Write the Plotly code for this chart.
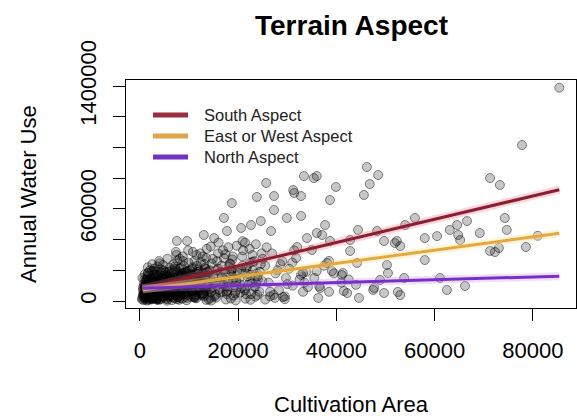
import plotly.graph_objects as go

# ---------------- data (x in thousands of area units, y in thousands) ----------------
out_x = [85.4, 77.8, 71.3, 73.3, 46.2, 48.5, 46.8, 45.6, 39.9, 38.7, 36.0, 37.7, 44.4, 56.0, 54.0,
         64.6, 66.6, 69.2, 74.3, 74.7, 71.3, 73.1, 58.0, 60.5, 63.1, 65.2, 48.3, 49.7, 52.3, 53.0,
         38.7, 37.1, 42.8, 44.2, 50.3, 58.0, 38.5, 39.1, 41.1, 36.0, 53.8, 61.1, 36.7, 41.5, 44.6,
         47.7, 49.7, 53.0, 62.5, 66.2, 33.4, 35.4, 25.7, 23.8, 27.3, 31.4, 32.8, 18.7, 27.3, 17.1,
         29.9, 32.8, 24.6, 22.6, 26.7, 7.5, 9.6, 34.0, 13.0, 15.1, 17.7, 20.6, 31.2, 36.0, 42.8,
         38.1, 41.3, 29.1, 36.3, 42.2, 47.5, 48.9, 33.2, 35.0, 32.0, 81.0, 78.6, 51.9, 64.8, 72.3,
         50.5, 52.5]
out_y = [1390, 1016, 801, 756, 873, 821, 762, 691, 743, 658, 814, 495, 463, 541, 495,
         495, 521, 443, 541, 463, 326, 345, 410, 423, 463, 397, 456, 391, 391, 358,
         391, 430, 326, 248, 235, 267, 261, 195, 169, 195, 150, 150, 85, 65, 20,
         85, 52, 39, 72, 98, 814, 801, 769, 678, 684, 704, 684, 638, 593, 541,
         541, 554, 521, 495, 456, 391, 391, 410, 430, 410, 456, 476, 723, 443, 397,
         248, 182, 26, 20, 52, 72, 137, 182, 332, 352, 425, 352, 378, 430, 319,
         182, 59]

dense_x = [0.4, 0.6, 0.8, 0.9, 1.0, 1.1, 1.2, 1.3, 1.4, 1.5, 1.6, 1.7, 1.8, 1.9, 2.0, 2.1, 2.2, 2.3, 2.4, 2.5,
           2.6, 2.7, 2.8, 2.9, 3.0, 0.5, 0.7, 1.0, 1.2, 1.5, 1.7, 2.0, 2.2, 2.5, 2.7, 2.9, 0.6, 0.9, 1.3, 1.6,
           1.9, 2.3, 2.6, 2.8, 1.1, 1.4, 1.8, 2.1, 2.4, 2.9,
           3.1, 3.2, 3.3, 3.4, 3.5, 3.6, 3.7, 3.8, 3.9, 4.0, 4.1, 4.2, 4.3, 4.4, 4.5, 4.6, 4.7, 4.8, 4.9, 5.0,
           5.1, 5.2, 5.3, 5.4, 5.5, 5.6, 5.7, 5.8, 5.9, 6.0, 3.3, 3.6, 3.9, 4.2, 4.5, 4.8, 5.1, 5.4, 5.7, 6.0,
           3.5, 4.0, 4.6, 5.2, 5.8,
           6.2, 6.4, 6.6, 6.8, 7.0, 7.2, 7.4, 7.6, 7.8, 8.0, 8.2, 8.4, 8.6, 8.8, 9.0, 9.2, 9.4, 9.6, 9.8, 10.0,
           6.3, 6.7, 7.1, 7.5, 7.9, 8.3, 8.7, 9.1, 9.5, 9.9, 6.5, 7.0, 7.7, 8.1, 8.5, 9.0, 9.7, 6.9, 7.3, 8.0,
           8.9, 9.3, 7.6, 8.4, 9.6,
           10.3, 10.6, 10.9, 11.2, 11.5, 11.8, 12.1, 12.4, 12.7, 13.0, 13.3, 13.6, 13.9, 14.2, 14.5, 14.8,
           10.5, 11.0, 11.6, 12.2, 12.8, 13.4, 14.0, 14.6, 10.8, 11.4, 12.0, 12.6, 13.2, 13.8, 14.4, 15.0,
           11.1, 11.9, 12.9, 13.7, 14.7, 10.4, 12.3, 13.1, 14.3, 11.7, 12.5, 13.5, 14.9,
           15.3, 15.7, 16.1, 16.5, 16.9, 17.3, 17.7, 18.1, 18.5, 18.9, 19.3, 19.7, 15.5, 16.3, 17.1, 17.9,
           18.7, 19.5, 15.9, 16.7, 17.5, 18.3, 19.1, 19.9, 16.0, 17.0, 18.0, 19.0, 15.2, 16.6, 17.8, 18.8,
           19.6, 17.4, 18.6,
           20.3, 20.8, 21.3, 21.8, 22.3, 22.8, 23.3, 23.8, 24.3, 24.8, 20.6, 21.6, 22.6, 23.6, 24.6,
           21.0, 22.0, 23.0, 24.0, 25.0, 20.4, 21.4, 22.4, 23.4, 24.4, 21.9, 22.9, 23.9, 20.9, 24.9,
           25.5, 26.2, 26.9, 27.6, 28.3, 29.0, 29.7, 30.4, 31.1, 31.8, 32.5, 33.2, 33.9,
           25.8, 27.2, 28.6, 30.0, 31.4, 32.8, 34.2, 26.5, 28.0, 29.5, 31.0, 33.5,
           35.5, 36.5, 37.5, 38.5, 39.5, 41.0, 42.5, 44.0]
dense_y = [12, 35, 60, 18, 90, 42, 130, 25, 75, 160, 50, 8, 110, 70, 200, 30, 145, 85, 55, 240,
           100, 20, 170, 65, 125, 150, 5, 48, 95, 28, 185, 62, 120, 15, 78, 210, 88, 140, 38, 220,
           105, 10, 58, 175, 22, 68, 135, 45, 195, 98,
           40, 115, 18, 190, 72, 150, 33, 95, 260, 55, 128, 12, 205, 80, 165, 45, 235, 100, 28, 140,
           70, 185, 15, 118, 58, 275, 90, 160, 38, 215, 65, 225, 142, 30, 110, 200, 52, 170, 82, 125,
           10, 245, 60, 95, 190,
           55, 180, 25, 240, 110, 75, 300, 145, 38, 210, 90, 165, 15, 260, 120, 48, 195, 80, 330, 140,
           130, 62, 225, 95, 170, 35, 290, 105, 60, 250, 200, 18, 155, 275, 70, 185, 115, 85, 320, 50,
           230, 28, 265, 135, 175,
           90, 210, 45, 155, 300, 120, 70, 250, 180, 30, 140, 340, 95, 200, 60, 275,
           170, 25, 230, 110, 290, 65, 185, 135, 320, 80, 160, 40, 215, 105, 355, 150,
           260, 125, 50, 190, 88, 130, 310, 240, 20, 175, 100, 280, 115,
           120, 260, 75, 190, 330, 140, 45, 225, 170, 290, 100, 360, 200, 55, 280, 130,
           210, 65, 310, 160, 95, 245, 35, 185, 380, 110, 350, 150, 30, 230, 70, 270,
           125, 305, 195,
           150, 290, 80, 220, 340, 120, 260, 180, 60, 310, 210, 45, 170, 370, 240,
           330, 105, 200, 140, 275, 55, 380, 250, 95, 190, 160, 300, 40, 390, 130,
           230, 120, 310, 180, 70, 260, 150, 210, 100, 280, 140, 60, 190,
           350, 40, 240, 110, 330, 170, 90, 60, 200, 30, 250, 120,
           150, 95, 230, 60, 180, 120, 140, 105]

core_x = [0.5, 0.7, 0.9, 1.1, 1.3, 1.5, 1.7, 1.9, 2.1, 2.3, 2.5, 2.7, 2.9, 3.1, 3.3, 3.5, 3.7, 3.9,
          4.1, 4.3, 4.5, 4.7, 4.9, 5.1, 5.3, 5.5, 5.7, 5.9,
          0.6, 0.8, 1.0, 1.2, 1.4, 1.6, 1.8, 2.0, 2.2, 2.4, 2.6, 2.8, 3.0, 3.2, 3.4, 3.6, 3.8, 4.0,
          4.2, 4.4, 4.6, 4.8, 5.0, 5.2, 5.4, 5.6, 5.8, 6.0,
          6.2, 6.6, 7.0, 7.4, 7.8, 8.2, 8.6, 9.0, 9.4, 9.8, 10.2, 10.6, 11.0, 11.4, 11.8, 12.2, 12.6,
          13.0, 13.4, 13.8,
          6.4, 6.8, 7.2, 7.6, 8.0, 8.4, 8.8, 9.2, 9.6, 10.0, 10.4, 10.8, 11.2, 11.6, 12.0, 12.4, 12.8,
          13.2, 13.6, 14.0, 7.1, 8.3, 9.5, 10.7, 11.9, 13.1,
          14.4, 14.9, 15.4, 15.9, 16.4, 16.9, 17.4, 17.9, 18.4, 18.9, 19.4, 19.9, 20.4, 20.9, 21.4,
          21.9, 22.4, 22.9, 23.4, 23.9, 14.6, 15.6, 16.6, 17.6, 18.6, 19.6, 20.6, 21.6, 22.6, 23.6,
          1.5, 3.5, 5.5, 7.5, 9.5, 11.5, 13.5, 15.5, 17.5, 19.5, 21.5, 23.5, 25.5, 27.5, 29.5,
          2.5, 6.5, 10.5, 14.5, 18.5, 22.5, 26.5]
core_y = [20, 45, 80, 10, 55, 95, 30, 120, 65, 15, 88, 40, 150, 25, 70, 105, 50, 8,
          135, 60, 22, 90, 115, 35, 75, 160, 48, 100,
          70, 28, 105, 52, 140, 15, 85, 38, 115, 62, 25, 95, 45, 170, 78, 20, 130, 58,
          90, 30, 110, 68, 145, 40, 82, 12, 125, 55,
          30, 95, 150, 60, 120, 20, 175, 85, 45, 130, 200, 65, 110, 35, 160, 90, 140,
          50, 210, 75,
          140, 55, 100, 185, 35, 125, 70, 165, 20, 105, 60, 150, 25, 190, 80, 120, 45,
          170, 95, 130, 210, 215, 190, 220, 205, 180,
          80, 160, 40, 210, 115, 60, 185, 95, 240, 140, 50, 200, 110, 230, 70,
          175, 125, 255, 90, 160, 245, 100, 150, 60, 195, 135, 85, 215, 45, 120,
          3, 8, 2, 12, 5, 18, 7, 22, 10, 4, 15, 28, 9, 20, 12,
          14, 6, 25, 3, 16, 8, 30]

inner_x = [0.8, 1.2, 1.6, 2.0, 2.4, 2.8, 3.2, 3.6, 4.0, 4.4, 4.8, 5.2, 5.6, 6.0, 6.4, 6.8, 7.2, 7.6,
           8.0, 8.4, 8.8, 9.2, 9.6, 10.0, 10.4, 10.8, 11.2, 11.6, 12.0, 12.4,
           1.0, 1.8, 2.6, 3.4, 4.2, 5.0, 5.8, 6.6, 7.4, 8.2, 9.0, 9.8, 10.6, 11.4, 12.2, 13.0,
           0.7, 1.4, 2.1, 2.8, 3.5, 4.2, 4.9, 5.6, 6.3, 7.0, 7.7, 8.4, 9.1, 9.8, 10.5, 11.2, 11.9,
           12.6, 13.3, 14.0,
           0.9, 1.3, 1.7, 2.1, 2.5, 2.9, 3.3, 3.7, 4.1, 4.5, 4.9, 5.3, 5.7, 6.1, 6.5, 6.9, 7.3, 7.7,
           1.1, 1.9, 2.7, 3.5, 4.3, 5.1, 5.9, 6.7, 7.5, 8.3]
inner_y = [110, 65, 180, 35, 140, 90, 15, 165, 55, 120, 75, 190, 28, 150, 100, 45, 200, 130,
           8, 170, 85, 145, 40, 115, 175, 60, 20, 135, 95, 50,
           175, 20, 130, 60, 185, 95, 30, 155, 80, 120, 50, 195, 110, 70, 160, 40,
           40, 125, 75, 195, 15, 100, 165, 50, 140, 85, 25, 180, 105, 60, 150, 35, 190,
           125, 80, 10,
           95, 140, 55, 110, 30, 125, 85, 45, 100, 150, 60, 120, 80, 40, 135, 70, 115, 25,
           60, 95, 45, 130, 75, 105, 140, 90, 55, 160]

# fitted trend lines (endpoints, thousands)
fit_x = [0.55, 85.4]
south_y = [82, 725]
eastwest_y = [74, 441]
north_y = [83, 162]

series_names = ["South Aspect", "East or West Aspect", "North Aspect"]
series_y = [south_y, eastwest_y, north_y]
series_colors = ["#8B1E30", "#E6A83C", "#7A2EC6"]
legend_colors = ["#9A2E3E", "#E2A448", "#7033C0"]
halo_colors = ["rgba(230,120,140,0.30)", "rgba(255,225,150,0.35)", "rgba(200,150,255,0.30)"]

x_ticks = [0, 20000, 40000, 60000, 80000]
y_ticks = [0, 200000, 400000, 600000, 800000, 1000000, 1200000, 1400000]
y_tick_text = ["0", "", "", "600000", "", "", "", "1400000"]

# ---------------- figure ----------------
K = 1000
pts_x = [v * K for v in dense_x + core_x + inner_x + out_x]
pts_y = [v * K for v in dense_y + core_y + inner_y + out_y]

fig = go.Figure()
fig.add_trace(go.Scatter(
    x=pts_x, y=pts_y, mode="markers", showlegend=False, hoverinfo="skip",
    marker=dict(size=9, color="rgba(0,0,0,0.22)",
                line=dict(color="rgba(0,0,0,0.45)", width=1))))

for name, ys, col, halo in zip(series_names, series_y, series_colors, halo_colors):
    xs = [v * K for v in fit_x]
    yv = [v * K for v in ys]
    fig.add_trace(go.Scatter(x=xs, y=yv, mode="lines", showlegend=False, hoverinfo="skip",
                             line=dict(color=halo, width=8)))
    fig.add_trace(go.Scatter(x=xs, y=yv, mode="lines", showlegend=False, name=name,
                             line=dict(color=col, width=3)))

font_family = "Liberation Sans, Arial, sans-serif"

# manual legend (paper coordinates of the plot area)
legend_rows = [0.8465, 0.7544, 0.6623]
shapes = []
annotations = []
for name, col, yy in zip(series_names, legend_colors, legend_rows):
    shapes.append(dict(type="line", xref="paper", yref="paper", x0=0.06, x1=0.1378,
                       y0=yy, y1=yy, line=dict(color=col, width=5)))
    annotations.append(dict(text=name, x=0.1689, y=yy, xref="paper", yref="paper",
                            xanchor="left", yanchor="middle", showarrow=False,
                            font=dict(size=16.5, family=font_family, color="#222")))

annotations += [
    dict(text="<b>Terrain Aspect</b>", x=0.5, y=1.241, xref="paper", yref="paper",
         xanchor="center", yanchor="middle", showarrow=False,
         font=dict(size=28, family=font_family, color="black")),
    dict(text="Cultivation Area", x=0.5, y=-0.4254, xref="paper", yref="paper",
         xanchor="center", yanchor="middle", showarrow=False,
         font=dict(size=22, family=font_family, color="black")),
    dict(text="Annual Water Use", x=-0.2178, y=0.5, xref="paper", yref="paper",
         xanchor="center", yanchor="middle", showarrow=False, textangle=-90,
         font=dict(size=22, family=font_family, color="black")),
]

fig.update_layout(
    width=577, height=418,
    margin=dict(l=126, r=1, t=80, b=110),
    paper_bgcolor="white", plot_bgcolor="white",
    font=dict(family=font_family, color="black"),
    showlegend=False,
    xaxis=dict(range=[-2850, 88800], tickvals=x_ticks, ticktext=[str(v) for v in x_ticks],
               showgrid=False, zeroline=False, showline=True, mirror=True,
               linecolor="black", linewidth=1.3, ticks="outside", ticklen=12,
               tickcolor="black", tickwidth=1.3, tickfont=dict(size=22, color="black"),
               ticklabelstandoff=10),
    yaxis=dict(range=[-45600, 1440000], tickvals=y_ticks, ticktext=y_tick_text,
               tickangle=-90,
               showgrid=False, zeroline=False, showline=True, mirror=True,
               linecolor="black", linewidth=1.3, ticks="outside", ticklen=12,
               tickcolor="black", tickwidth=1.3, tickfont=dict(size=22, color="black"),
               ticklabelstandoff=8),
    shapes=shapes,
    annotations=annotations,
)

fig.write_html("out.html")
